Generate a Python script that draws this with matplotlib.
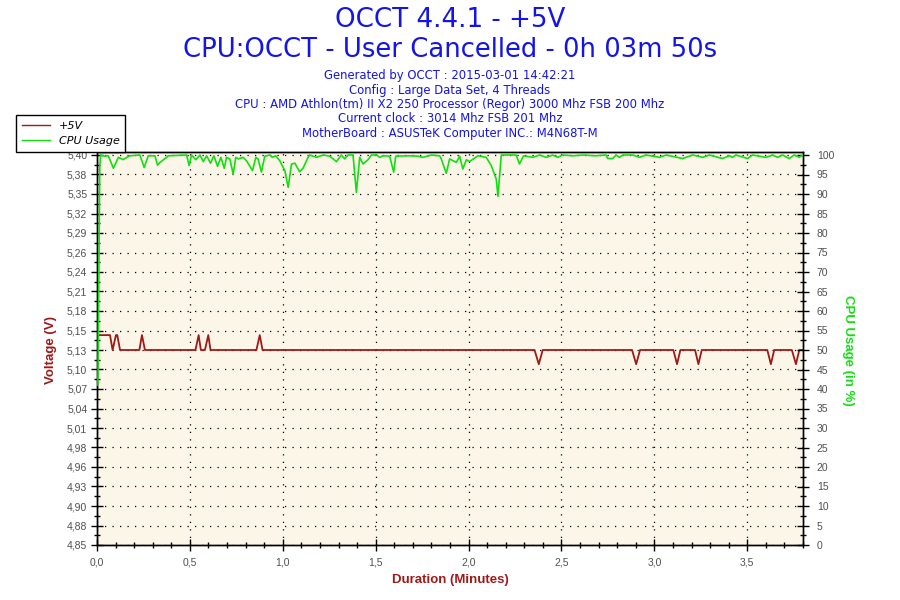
import matplotlib
matplotlib.use('Agg')
import matplotlib.pyplot as plt
import numpy as np
from matplotlib.ticker import FixedLocator, MultipleLocator
from matplotlib.lines import Line2D

# ---------------- data ----------------
volt_t = [0.011, 0.070, 0.084, 0.102, 0.109, 0.124,
          0.228, 0.242, 0.258,
          0.530, 0.547, 0.559,
          0.581, 0.599, 0.611,
          0.858, 0.876, 0.891,
          2.355, 2.378, 2.399,
          2.880, 2.902, 2.923,
          3.102, 3.122, 3.140,
          3.219, 3.237, 3.255,
          3.608, 3.627, 3.645,
          3.740, 3.762, 3.780,
          3.797]
volt_v = [5.146, 5.146, 5.125, 5.146, 5.146, 5.125,
          5.125, 5.146, 5.125,
          5.125, 5.146, 5.125,
          5.125, 5.146, 5.125,
          5.125, 5.146, 5.125,
          5.125, 5.105, 5.125,
          5.125, 5.105, 5.125,
          5.125, 5.105, 5.125,
          5.125, 5.105, 5.125,
          5.125, 5.105, 5.125,
          5.125, 5.105, 5.125,
          5.125]

cpu_t = [0.005, 0.015, 0.0197, 0.040, 0.061, 0.088, 0.115, 0.141, 0.160, 0.177,
         0.231, 0.254, 0.276, 0.312, 0.326, 0.339, 0.375, 0.383, 0.482, 0.496,
         0.509, 0.532, 0.554, 0.572, 0.590, 0.611, 0.629, 0.649, 0.667, 0.685,
         0.697, 0.715, 0.733, 0.747, 0.760, 0.787, 0.805, 0.837, 0.855, 0.867,
         0.885, 0.903, 0.930, 0.944, 0.962, 0.984, 1.011, 1.029, 1.047, 1.065,
         1.091, 1.109, 1.136, 1.145, 1.181, 1.217, 1.253, 1.289, 1.315, 1.333,
         1.351, 1.378, 1.396, 1.414, 1.432, 1.459, 1.477, 1.504, 1.522, 1.539,
         1.575, 1.597, 1.608, 1.683, 1.728, 1.754, 1.800, 1.844, 1.853, 1.880,
         1.898, 1.934, 1.952, 1.969, 1.988, 2.005, 2.050, 2.095, 2.122, 2.149,
         2.158, 2.176, 2.256, 2.274, 2.296, 2.346, 2.382, 2.418, 2.453, 2.480,
         2.507, 2.560, 2.620, 2.680, 2.740, 2.749, 2.776, 2.794, 2.812, 2.830,
         2.884, 2.919, 2.955, 3.027, 3.063, 3.152, 3.170, 3.206, 3.260, 3.296,
         3.367, 3.403, 3.421, 3.439, 3.502, 3.528, 3.600, 3.636, 3.663, 3.690,
         3.726, 3.753, 3.780, 3.797]
cpu_v = [41.0, 97.0, 100.0, 99.7, 99.8, 96.6, 99.4, 98.8, 99.4, 99.8,
         100.0, 96.8, 99.8, 99.8, 97.4, 98.1, 99.4, 99.8, 100.0, 97.3,
         100.0, 98.8, 100.0, 98.3, 99.8, 97.9, 99.8, 97.1, 99.4, 96.6,
         99.4, 99.0, 95.1, 99.4, 99.0, 99.4, 98.5, 96.0, 99.4, 99.0,
         95.6, 99.7, 100.0, 99.4, 99.8, 98.5, 96.0, 91.7, 97.7, 97.9,
         95.7, 96.6, 99.4, 100.0, 99.4, 100.0, 99.7, 98.3, 100.0, 99.0,
         100.0, 100.0, 90.4, 99.4, 97.7, 98.8, 100.0, 100.0, 99.4, 99.8,
         99.7, 95.6, 99.7, 99.8, 99.7, 99.4, 100.0, 99.8, 99.0, 95.3,
         99.0, 98.1, 99.7, 96.4, 98.8, 98.3, 99.8, 99.4, 97.3, 93.8,
         89.4, 100.0, 100.0, 97.7, 99.8, 99.4, 100.0, 99.4, 100.0, 99.4,
         100.0, 99.8, 100.0, 99.8, 100.0, 99.1, 99.1, 100.0, 99.4, 100.0,
         100.0, 99.4, 100.0, 99.4, 100.0, 99.1, 99.4, 100.0, 99.4, 100.0,
         99.1, 99.8, 99.4, 100.0, 99.1, 100.0, 99.4, 100.0, 99.4, 100.0,
         99.1, 100.0, 99.4, 100.0]

volt_tick_labels = ['4,85', '4,88', '4,90', '4,93', '4,96', '4,98', '5,01',
                    '5,04', '5,07', '5,10', '5,13', '5,15', '5,18', '5,21',
                    '5,24', '5,26', '5,29', '5,32', '5,35', '5,38', '5,40']
x_tick_labels = ['0,0', '0,5', '1,0', '1,5', '2,0', '2,5', '3,0', '3,5']
cpu_tick_labels = [str(v) for v in range(0, 101, 5)]

title1 = 'OCCT 4.4.1 - +5V'
title2 = 'CPU:OCCT - User Cancelled - 0h 03m 50s'
info_lines = ['Generated by OCCT : 2015-03-01 14:42:21',
              'Config : Large Data Set, 4 Threads',
              'CPU : AMD Athlon(tm) II X2 250 Processor (Regor) 3000 Mhz FSB 200 Mhz',
              'Current clock : 3014 Mhz FSB 201 Mhz',
              'MotherBoard : ASUSTeK Computer INC.: M4N68T-M']

# ---------------- style ----------------
plt.rcParams['font.family'] = ['DejaVu Sans']
BLUE = '#1414E6'
RED = '#A01818'
GREEN = '#10E010'
TICKFONT = ['Liberation Sans', 'DejaVu Sans']
NARROW = ['Liberation Sans Narrow', 'Liberation Sans', 'DejaVu Sans']

W, H = 900, 600
# plot frame: x 97..803, y 152..545 (values 100% / 5,40 sit 3 px below the top edge)
PAD_PX = 3
fig = plt.figure(figsize=(9, 6), dpi=100)
fig.patch.set_facecolor('white')

ax = fig.add_axes([97 / W, 55 / H, 706 / W, (390 + PAD_PX) / H])
ax.set_facecolor('#FCF6E9')
ax.plot(volt_t, volt_v, color=RED, lw=1.3, zorder=3)
ax.set_xlim(0, 3.8)
ax.set_ylim(4.85, 5.40 + PAD_PX * 0.55 / 390)

vt = np.linspace(4.85, 5.40, len(volt_tick_labels))
ax.yaxis.set_major_locator(FixedLocator(vt))
ax.set_yticklabels(volt_tick_labels)
ax.yaxis.set_minor_locator(FixedLocator((vt[:-1] + vt[1:]) / 2))
xt = np.arange(len(x_tick_labels)) * 0.5
ax.xaxis.set_major_locator(FixedLocator(xt))
ax.set_xticklabels(x_tick_labels)
ax.xaxis.set_minor_locator(MultipleLocator(0.1))

ax.grid(True, which='major', color='black', linestyle=(0, (1, 5)), lw=0.9)
ax.set_axisbelow(True)

for sp in ax.spines.values():
    sp.set_color('black')
    sp.set_linewidth(1.0)

ax.tick_params(axis='both', which='major', direction='inout', length=8, width=1,
               color='black', labelcolor='#505050', labelsize=7.5)
ax.tick_params(axis='both', which='minor', direction='inout', length=5, width=1,
               color='black')
ax.tick_params(axis='y', pad=3)
ax.tick_params(axis='x', pad=5)

ax2 = ax.twinx()
ax2.plot(cpu_t, cpu_v, color=GREEN, lw=1.2, zorder=3)
ax2.set_ylim(0, 100 + PAD_PX * 100 / 390)
ax2.yaxis.set_major_locator(FixedLocator(list(range(0, 101, 5))))
ax2.set_yticklabels(cpu_tick_labels)
ax2.yaxis.set_minor_locator(MultipleLocator(2.5))
ax2.tick_params(axis='y', which='major', direction='inout', length=8, width=1,
                color='black', labelcolor='#505050', labelsize=7.5, pad=6)
ax2.tick_params(axis='y', which='minor', direction='inout', length=5, width=1,
                color='black')
for sp in ax2.spines.values():
    sp.set_linewidth(1.0)

for lbl in ax.get_xticklabels() + ax.get_yticklabels() + ax2.get_yticklabels():
    lbl.set_fontfamily(TICKFONT)

# ---------------- texts ----------------
fig.text(0.5, 1 - 20 / H, title1, ha='center', va='center', color=BLUE, fontsize=18.8)
fig.text(0.5, 1 - 50 / H, title2, ha='center', va='center', color=BLUE, fontsize=18.6)
for i, line in enumerate(info_lines):
    fig.text(0.5, 1 - (76 + 14.3 * i) / H, line, ha='center', va='center',
             color=BLUE, fontsize=8.4)

fig.text(51 / W, 1 - 350 / H, 'Voltage (V)', rotation=90, ha='center', va='center',
         color=RED, fontsize=9.5, fontweight='bold', family=NARROW)
fig.text(848 / W, 1 - 350 / H, 'CPU Usage (in %)', rotation=270, ha='center',
         va='center', color=GREEN, fontsize=9.5, fontweight='bold', family=NARROW)
fig.text(450 / W, 1 - 580 / H, 'Duration (Minutes)', ha='center', va='center',
         color=RED, fontsize=9.5, fontweight='bold', family=NARROW)

handles = [Line2D([], [], color=RED, lw=1.0), Line2D([], [], color=GREEN, lw=1.0)]
leg = fig.legend(handles, ['+5V', 'CPU Usage'], loc='upper left',
                 bbox_to_anchor=(16 / W, 1 - 115 / H), fancybox=False,
                 framealpha=1, edgecolor='black', facecolor='white',
                 prop={'style': 'italic', 'size': 8}, handlelength=2.6,
                 handletextpad=0.75, borderpad=0.5, labelspacing=0.5,
                 borderaxespad=0)
leg.get_frame().set_linewidth(1.0)
leg.set_zorder(10)

fig.savefig('out.png', dpi=100)
